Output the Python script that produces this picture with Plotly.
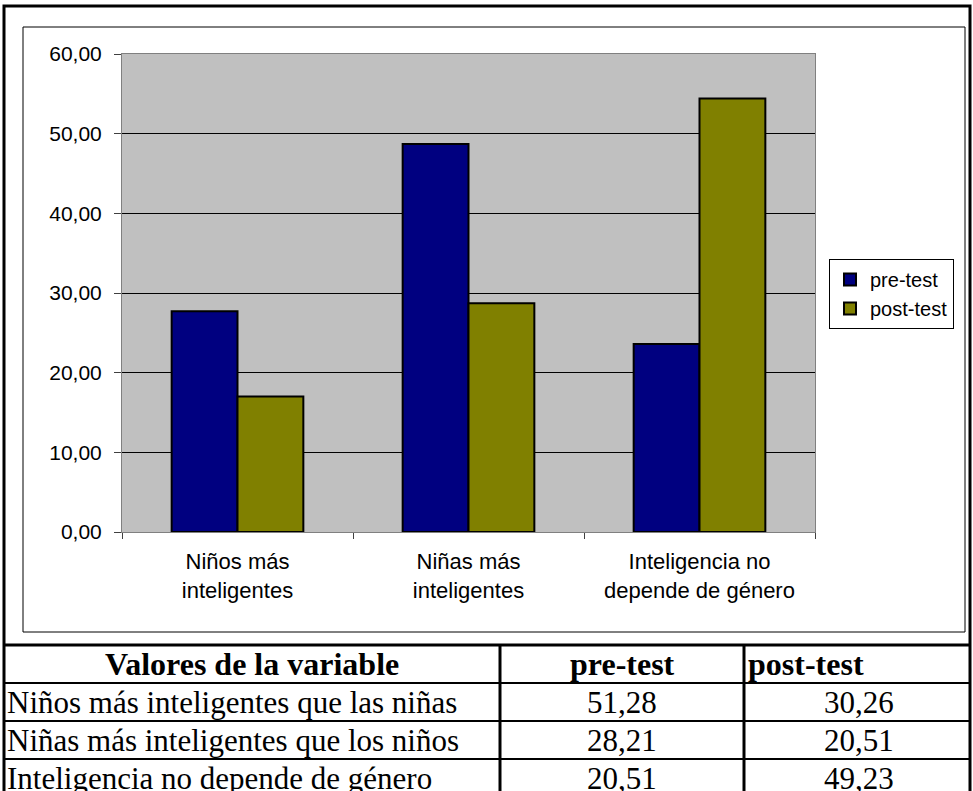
import plotly.graph_objects as go

# datos del grafico
categorias = ["Niños más<br>inteligentes", "Niñas más<br>inteligentes", "Inteligencia no<br>depende de género"]
pre_test = [27.7, 48.7, 23.6]
post_test = [17.0, 28.7, 54.4]

# datos de la tabla
tabla_header = ["Valores de la variable", "pre-test", "post-test"]
tabla_valores = [
    "Niños más inteligentes que las niñas",
    "Niñas más inteligentes que los niños",
    "Inteligencia no depende de género",
]
tabla_pre = ["51,28", "28,21", "20,51"]
tabla_post = ["30,26", "20,51", "49,23"]

W, H = 973, 791


def px(x):
    return x / W


def py(y):
    return 1 - y / H


fig = go.Figure()

fig.add_trace(go.Bar(
    x=categorias, y=pre_test, name="pre-test",
    marker=dict(color="#000080", line=dict(color="black", width=2)),
))
fig.add_trace(go.Bar(
    x=categorias, y=post_test, name="post-test",
    marker=dict(color="#808000", line=dict(color="black", width=2)),
))

axis_font = dict(family="Liberation Sans", size=21, color="black")

# --- tabla dibujada con lineas y anotaciones ---
col_x = [4, 500, 744, 970]       # bordes de columna (px)
row_y = [645, 683, 721, 759, 797]  # bordes de fila (px)
serif = "Liberation Serif"

shapes = [
    # marco exterior grueso
    dict(type="rect", xref="paper", yref="paper",
         x0=px(4), x1=px(970), y0=py(810), y1=py(6),
         line=dict(color="black", width=3)),
    # marco del grafico
    dict(type="rect", xref="paper", yref="paper",
         x0=px(23), x1=px(965), y0=py(632), y1=py(27),
         line=dict(color="black", width=1)),
]
for i, y in enumerate(row_y[:-1]):
    shapes.append(dict(type="line", xref="paper", yref="paper",
                       x0=px(col_x[0]), x1=px(col_x[-1]), y0=py(y), y1=py(y),
                       line=dict(color="black", width=3 if i == 0 else 2)))
for x in col_x[1:-1]:
    shapes.append(dict(type="line", xref="paper", yref="paper",
                       x0=px(x), x1=px(x), y0=py(row_y[0]), y1=py(810),
                       line=dict(color="black", width=3)))

annotations = []
# cabecera
hdr_pos = [((col_x[0] + col_x[1]) / 2, "center"),
           ((col_x[1] + col_x[2]) / 2, "center"),
           (col_x[2] + 2, "left")]
yc = (row_y[0] + row_y[1]) / 2
for txt, (x, anc) in zip(tabla_header, hdr_pos):
    annotations.append(dict(xref="paper", yref="paper", x=px(x), y=py(yc),
                            xanchor=anc, yanchor="middle", showarrow=False,
                            text="<b>%s</b>" % txt,
                            font=dict(family=serif, size=32, color="black")))
# filas
for r, (v, a, b) in enumerate(zip(tabla_valores, tabla_pre, tabla_post)):
    yc = (row_y[r + 1] + row_y[r + 2]) / 2
    celdas = [(v, col_x[0] + 1, "left"),
              (a, (col_x[1] + col_x[2]) / 2, "center"),
              (b, (col_x[2] + col_x[3]) / 2 + 2, "center")]
    for txt, x, anc in celdas:
        annotations.append(dict(xref="paper", yref="paper", x=px(x), y=py(yc),
                                xanchor=anc, yanchor="middle", showarrow=False,
                                text=txt,
                                font=dict(family=serif, size=31, color="black")))

fig.update_layout(
    width=W, height=H,
    margin=dict(l=0, r=0, t=0, b=0, autoexpand=False),
    paper_bgcolor="white",
    plot_bgcolor="#C0C0C0",
    separators=",.",
    barmode="group",
    bargap=0.43,
    bargroupgap=0,
    showlegend=True,
    legend=dict(
        x=px(829), y=py(259), xanchor="left", yanchor="top",
        bordercolor="black", borderwidth=1, bgcolor="white",
        font=dict(family="Liberation Sans", size=20, color="black"),
        itemwidth=30, tracegroupgap=0,
    ),
    xaxis=dict(
        domain=[px(122), px(815)],
        tickfont=dict(family="Liberation Sans", size=22, color="black"),
        ticks="outside", ticklen=6, tickcolor="#404040",
        tickson="boundaries",
        ticklabelstandoff=10,
        showline=True, linecolor="#808080", linewidth=1, mirror=True,
        showgrid=False, automargin=False,
    ),
    yaxis=dict(
        domain=[py(532), py(54)],
        range=[0, 60], dtick=10, tickformat=".2f",
        tickfont=axis_font,
        ticks="outside", ticklen=7, tickcolor="#404040",
        ticklabelstandoff=8,
        showline=True, linecolor="#808080", linewidth=1, mirror=True,
        showgrid=True, gridcolor="black", gridwidth=1,
        zeroline=False, automargin=False,
    ),
    shapes=shapes,
    annotations=annotations,
)

# quitar el margen de la pagina para que la figura empiece en (0, 0)
ajuste = (
    "document.body.style.margin='0';"
    "document.body.style.overflow='hidden';"
    "var d=document.getElementById('{plot_id}');"
    "d.style.position='absolute';d.style.left='0px';d.style.top='0px';"
)

fig.write_html("out.html", post_script=ajuste, config={"displayModeBar": False})
